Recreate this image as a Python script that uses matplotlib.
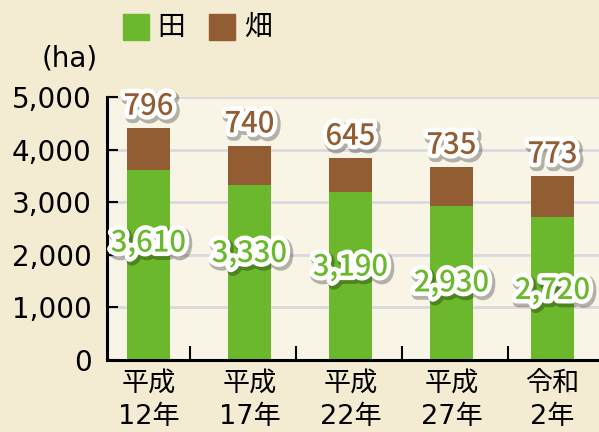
import matplotlib
matplotlib.use("Agg")
import matplotlib.pyplot as plt
import matplotlib.patheffects as pe
from matplotlib.patches import Rectangle
import numpy as np

plt.rcParams['font.family'] = ['DejaVu Sans', 'Noto Sans CJK JP']

categories = ["平成\n12年", "平成\n17年", "平成\n22年", "平成\n27年", "令和\n2年"]
paddy = [3610, 3330, 3190, 2930, 2720]
field = [796, 740, 645, 735, 773]
paddy_labels = ["3,610", "3,330", "3,190", "2,930", "2,720"]
field_labels = ["796", "740", "645", "735", "773"]
yticks = [0, 1000, 2000, 3000, 4000, 5000]
ytick_labels = ["0", "1,000", "2,000", "3,000", "4,000", "5,000"]

GREEN = "#6cb82c"
BROWN = "#935d33"
FIG_BG = "#f3ecd2"
AX_BG = "#f9f5e6"
GRID = "#d9d9df"

fig = plt.figure(figsize=(5.99, 4.32), dpi=100, facecolor=FIG_BG)
ax = fig.add_axes([107/599, 72/432, 492/599, 263/432])
ax.set_facecolor(AX_BG)

x = np.arange(len(categories))
w = 0.426
ax.bar(x, paddy, width=w, color=GREEN, zorder=3)
ax.bar(x, field, width=w, bottom=paddy, color=BROWN, zorder=3)

ax.set_xlim(-0.41, 4.46)
ax.set_ylim(0, 5000)
ax.set_yticks(yticks)
ax.set_yticklabels(ytick_labels)
ax.set_xticks(x)
ax.set_xticklabels(categories, linespacing=1.35)
ax.tick_params(axis='x', length=0, labelsize=19.5, pad=8, colors='black')
ax.tick_params(axis='y', direction='in', length=8, width=1.5, labelsize=20, pad=11)
ax.set_xticks([0.41, 1.46, 2.51, 3.56], minor=True)
ax.tick_params(axis='x', which='minor', direction='in', length=10, width=1.5)

for yv in yticks[1:]:
    ax.axhline(yv, color=GRID, lw=2, zorder=1)

for s in ['top', 'right']:
    ax.spines[s].set_visible(False)
for s in ['left', 'bottom']:
    ax.spines[s].set_linewidth(2.2)
    ax.spines[s].set_zorder(4)

effects = [pe.Stroke(linewidth=8, foreground=(0, 0, 0, 0.28), offset=(1.5, -2)),
           pe.Stroke(linewidth=6.5, foreground='white'), pe.Normal()]

paddy_dy = [22, 19, 9, 0, -2]
for i in range(len(categories)):
    ax.annotate(field_labels[i], (x[i], paddy[i] + field[i]), xytext=(0, 22 * 0.72),
                textcoords='offset points', ha='center', va='center',
                fontsize=21, color=BROWN, fontweight='medium', zorder=6,
                family='Noto Sans CJK JP', path_effects=effects)
    ax.annotate(paddy_labels[i], (x[i], paddy[i] / 2), xytext=(0, paddy_dy[i] * 0.72),
                textcoords='offset points', ha='center', va='center',
                fontsize=21, color=GREEN, fontweight='medium', zorder=6,
                family='Noto Sans CJK JP', path_effects=effects)

fig.text(70/599, 1 - 59/432, "(ha)", ha='center', va='center', fontsize=20)

# legend
fig.patches.append(Rectangle((123/599, 1 - 40/432), 26/599, 26/432, transform=fig.transFigure,
                             color=GREEN, figure=fig))
fig.text(157/599, 1 - 27/432, "田", ha='left', va='center', fontsize=20,
         family='Noto Sans CJK JP')
fig.patches.append(Rectangle((209/599, 1 - 40/432), 26/599, 26/432, transform=fig.transFigure,
                             color=BROWN, figure=fig))
fig.text(244/599, 1 - 27/432, "畑", ha='left', va='center', fontsize=20,
         family='Noto Sans CJK JP')

fig.savefig("out.png", dpi=100, facecolor=FIG_BG)
